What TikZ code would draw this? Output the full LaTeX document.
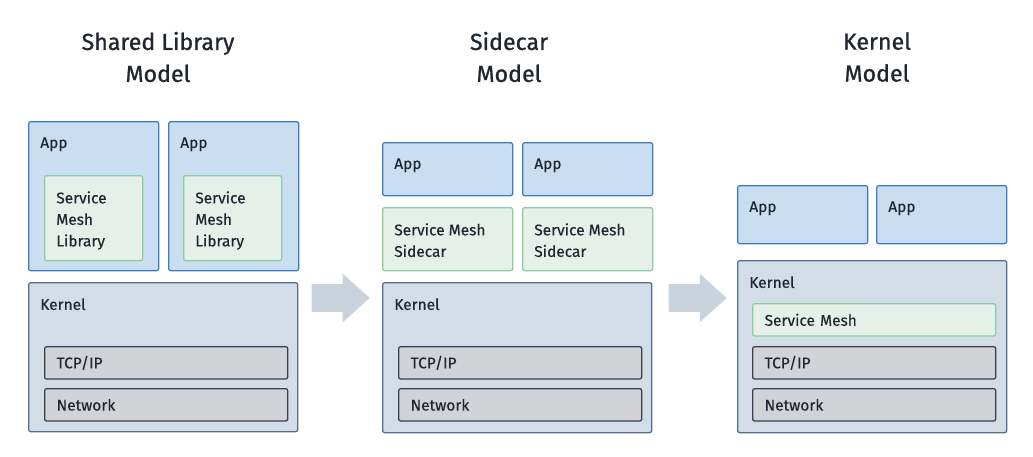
\documentclass[tikz,border=0pt]{standalone}
\usepackage{fontspec}
\setmainfont{Fira Sans}
\newfontfamily\headfont[FakeBold=0.8]{Fira Sans}
\newfontfamily\bodyfont[FakeBold=0.3]{Fira Sans}
\usetikzlibrary{positioning,calc,shapes.arrows}
\definecolor{appfill}{RGB}{202,222,241}
\definecolor{appline}{RGB}{62,124,194}
\definecolor{meshfill}{RGB}{228,240,232}
\definecolor{meshline}{RGB}{140,205,160}
\definecolor{kernfill}{RGB}{211,221,232}
\definecolor{kernline}{RGB}{82,110,145}
\definecolor{layerfill}{RGB}{210,211,215}
\definecolor{layerline}{RGB}{55,64,78}
\definecolor{arrowfill}{RGB}{200,211,221}
\definecolor{ink}{RGB}{30,38,48}

\begin{document}
\begin{tikzpicture}[x=0.025cm, y=-0.025cm,
    box/.style={draw, rounded corners=1.5pt, line width=0.9pt, anchor=north west, inner sep=0pt},
    app/.style={box, draw=appline, fill=appfill, minimum width=3.25cm},
    mesh/.style={box, draw=meshline, fill=meshfill},
    kern/.style={box, draw=kernline, fill=kernfill, minimum width=6.725cm},
    layer/.style={box, draw=layerline, fill=layerfill, minimum width=6.075cm, minimum height=0.81cm,
        inner xsep=0.3cm, text width=5.475cm, align=left, font=\bodyfont\fontsize{11}{14}\selectfont, text=ink},
    tag/.style={anchor=north west, inner sep=0pt, xshift=0.3cm, yshift=-0.4cm, align=left,
        font=\bodyfont\fontsize{11}{15.3}\selectfont, text=ink},
    title/.style={align=center, font=\headfont\fontsize{16.5}{22.7}\selectfont, text=ink},
    bigarrow/.style={shape=single arrow, fill=arrowfill, draw=none, inner xsep=0pt, inner ysep=0.34cm,
        minimum height=1.45cm, minimum width=1.2cm, single arrow head extend=0.26cm, single arrow tip angle=84}
]
    \useasboundingbox (0,0) rectangle (1033,456);

    % shared library model
    \node[title] (titleA) at (158,57) {Shared Library\\Model};
    \node[app, minimum height=3.725cm, label={[tag]north west:App}] (appA1) at (28,121) {};
    \node[app, minimum height=3.725cm, label={[tag]north west:App}] (appA2) at (168,121) {};
    \node[mesh, minimum width=2.45cm, minimum height=2.125cm, label={[tag]north west:Service\\Mesh\\Library}] (libA1) at (44,175) {};
    \node[mesh, minimum width=2.45cm, minimum height=2.125cm, label={[tag]north west:Service\\Mesh\\Library}] (libA2) at (183,175) {};
    \node[kern, minimum height=3.725cm, label={[tag]north west:Kernel}] (kerA) at (28,282) {};
    \node[layer] (tcpA) at (44,346) {TCP/IP};
    \node[layer] (netA) at (44,388) {Network};

    % sidecar model
    \node[title] (titleB) at (509,57) {Sidecar\\Model};
    \node[app, minimum height=1.325cm, label={[tag]north west:App}] (appB1) at (382,142) {};
    \node[app, minimum height=1.325cm, label={[tag]north west:App}] (appB2) at (522,142) {};
    \node[mesh, minimum width=3.25cm, minimum height=1.575cm, label={[tag]north west:Service Mesh\\Sidecar}] (carB1) at (382,207) {};
    \node[mesh, minimum width=3.25cm, minimum height=1.575cm, label={[tag]north west:Service Mesh\\Sidecar}] (carB2) at (522,207) {};
    \node[kern, minimum height=3.75cm, label={[tag]north west:Kernel}] (kerB) at (382,282) {};
    \node[layer] (tcpB) at (398,346) {TCP/IP};
    \node[layer] (netB) at (398,388) {Network};

    % kernel model
    \node[title] (titleC) at (877,57) {Kernel\\Model};
    \node[app, minimum height=1.45cm, label={[tag]north west:App}] (appC1) at (737,185) {};
    \node[app, minimum height=1.45cm, label={[tag]north west:App}] (appC2) at (876,185) {};
    \node[kern, minimum height=4.3cm, label={[tag]north west:Kernel}] (kerC) at (737,260) {};
    \node[layer, draw=meshline, fill=meshfill] (meshC) at (752,303) {Service Mesh};
    \node[layer] (tcpC) at (752,346) {TCP/IP};
    \node[layer] (netC) at (752,388) {Network};

    % arrows between the models
    \node[bigarrow] (arrAB) at (333,298) {};
    \node[bigarrow] (arrBC) at (690,298) {};
\end{tikzpicture}
\end{document}
